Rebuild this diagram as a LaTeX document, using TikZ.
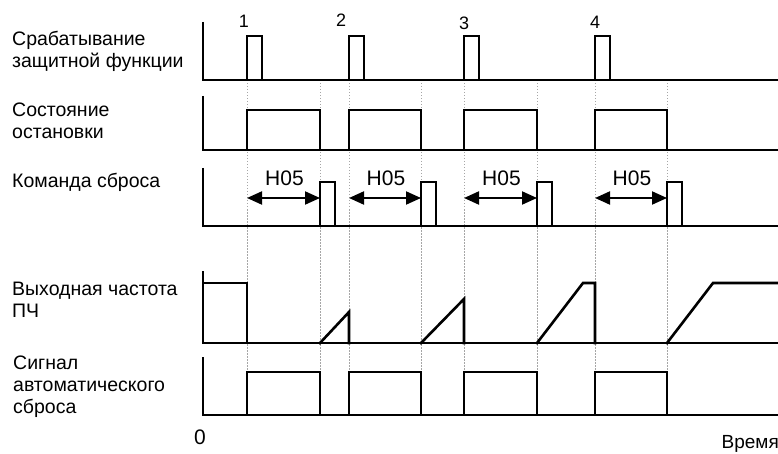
\documentclass[tikz,border=0pt]{standalone}
\usepackage{fontspec}
\setmainfont{Liberation Sans}
\usetikzlibrary{arrows.meta}
\begin{document}
\begin{tikzpicture}[x=1pt,y=-1pt,
  sig/.style={line width=2.6pt,line join=miter,line cap=rect},
  axis/.style={line width=2.2pt},
  guide/.style={gray!70,line width=0.8pt,dash pattern=on 1.5pt off 1.5pt},
  lbl/.style={anchor=west,inner sep=0pt,align=left,font=\fontsize{19.5}{21.8}\selectfont},
  num/.style={inner sep=0pt,font=\fontsize{18}{20}\selectfont},
  hlbl/.style={inner sep=0pt,font=\fontsize{21}{24}\selectfont},
  dim/.style={line width=2pt,{Triangle[length=15pt,width=13pt]}-{Triangle[length=15pt,width=13pt]}}]
\useasboundingbox (0,0) rectangle (778,454);
% guides
\foreach \x in {247,320,349,421,464,537,595,667}
  \draw[guide] (\x,80) -- (\x,372);
% labels
\node[lbl] (l1) at (12,51) {Срабатывание\\защитной функции};
\node[lbl] (l2) at (12,121) {Состояние\\остановки};
\node[lbl] (l3) at (12,182) {Команда сброса};
\node[lbl] (l4) at (12,300) {Выходная частота\\ПЧ};
\node[lbl] (l5) at (13,387) {Сигнал\\автоматического\\сброса};
% row 1
\draw[axis] (203,22) -- (203,80) -- (778,80);
\draw[sig] (247,80) -- (247,36) -- (262,36) -- (262,80);
\draw[sig] (349,80) -- (349,36) -- (364,36) -- (364,80);
\draw[sig] (464,80) -- (464,36) -- (479,36) -- (479,80);
\draw[sig] (595,80) -- (595,36) -- (610,36) -- (610,80);
\node[num] (n1) at (244,21) {1};
\node[num] (n2) at (341,20) {2};
\node[num] (n3) at (464,23) {3};
\node[num] (n4) at (595,22) {4};
% row 2
\draw[axis] (203,96) -- (203,150) -- (778,150);
\foreach \a/\b in {247/320,349/421,464/537,595/667}
  \draw[sig] (\a,150) -- (\a,110) -- (\b,110) -- (\b,150);
% row 3
\draw[axis] (203,168) -- (203,226) -- (778,226);
\foreach \a/\b in {247/320,349/421,464/537,595/667}{
  \draw[sig] (\b,226) -- (\b,182) -- (\b+15,182) -- (\b+15,226);
  \draw[dim] (\a,198) -- (\b,198);
  \node[hlbl] at ({(\a+\b)/2+1},178) {H05};
}
% row 4
\draw[axis] (203,271) -- (203,343) -- (778,343);
\draw[sig] (203,283) -- (247,283) -- (247,343);
\draw[sig] (320,343) -- (349,312) -- (349,343);
\draw[sig] (421,343) -- (464,299) -- (464,343);
\draw[sig] (537,343) -- (583,283) -- (595,283) -- (595,343);
\draw[sig] (667,343) -- (713,283) -- (778,283);
% row 5
\draw[axis] (203,357) -- (203,415) -- (778,415);
\draw[sig] (203,415) -- (247,415) -- (247,372) -- (320,372) -- (320,415) -- (349,415) -- (349,372) -- (421,372) -- (421,415) -- (464,415) -- (464,372) -- (537,372) -- (537,415) -- (595,415) -- (595,372) -- (667,372) -- (667,415) -- (778,415);
% axis labels
\node[hlbl] (zero) at (200,437) {0};
\node[inner sep=0pt,anchor=east,font=\fontsize{19}{22}\selectfont] (time) at (779,444) {Время};
\end{tikzpicture}
\end{document}
